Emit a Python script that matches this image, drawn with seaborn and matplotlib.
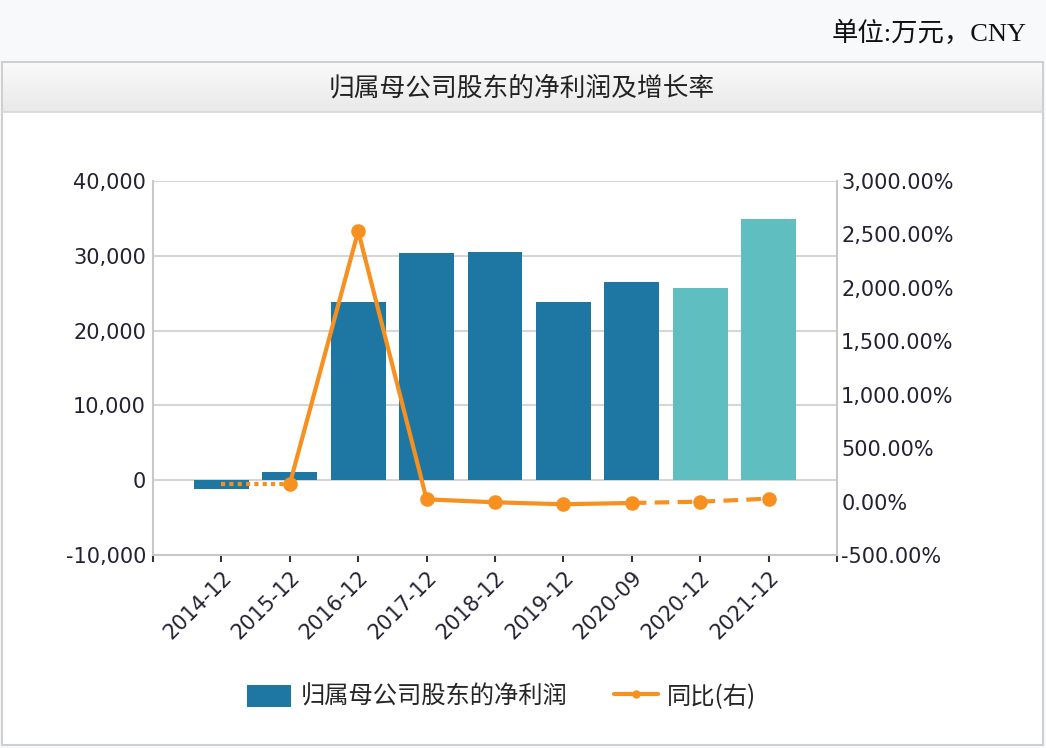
"""Net profit attributable to parent shareholders and YoY growth."""
import matplotlib.pyplot as plt
import numpy as np
import pandas as pd
import seaborn as sns
from matplotlib.lines import Line2D
from matplotlib.patches import Patch, Rectangle
from matplotlib.ticker import FuncFormatter, MultipleLocator

# Data
categories = ["2014-12", "2015-12", "2016-12", "2017-12", "2018-12",
              "2019-12", "2020-09", "2020-12", "2021-12"]
net_profit = [-1220, 1100, 23830, 30330, 30500, 23830, 26500, 25700, 34900]
yoy_growth = [165, 165, 2531, 21, -7, -25, -13, -1, 27]
is_forecast = [False, False, False, False, False, False, False, True, True]

BAR_COLOR = "#1E77A2"
FORECAST_COLOR = "#5FBFC0"
LINE_COLOR = "#F7901E"
TEXT_COLOR = "#222233"
GRID_COLOR = "#D6D6D6"

sns.set_theme(style="white")
plt.rcParams["font.family"] = ["DejaVu Sans", "Noto Sans CJK SC"]

W, H = 1046, 748
fig = plt.figure(figsize=(W / 100, H / 100), dpi=100, facecolor="#F7F9FA")

# Outer box and header band
fig.patches.append(Rectangle((2 / W, 3 / H), 1041 / W, (745 - 62) / H,
                             transform=fig.transFigure, facecolor="white",
                             edgecolor="#CFCFCF", lw=1.5, zorder=-2))
hdr = fig.add_axes([3 / W, 1 - 112 / H, 1039 / W, 49 / H], zorder=-1)
grad = np.linspace(0, 1, 64).reshape(-1, 1)
hdr.imshow(grad, aspect="auto", cmap=sns.blend_palette(["#FAFAFA", "#E9E9E9"], as_cmap=True),
           extent=(0, 1, 0, 1))
hdr.set_axis_off()
fig.add_artist(Line2D([2 / W, 1043 / W], [1 - 112 / H] * 2, transform=fig.transFigure,
                      color="#D8D8D8", lw=1.2))

fig.text(1027 / W, 1 - 33 / H, "单位:万元，CNY", ha="right", va="center",
         fontsize=19, color="#111111", family=["Liberation Serif", "Noto Sans CJK SC"])
fig.text(522 / W, 1 - 88 / H, "归属母公司股东的净利润及增长率", ha="center", va="center",
         fontsize=18.5, color="#222222", family=["Noto Sans CJK SC"])

ax = fig.add_axes([153 / W, 1 - 555 / H, 684 / W, 374 / H])
ax.set_facecolor("none")

pos = np.arange(len(categories))
df = pd.DataFrame({"period": categories, "profit": net_profit, "pos": pos})
palette = {c: (FORECAST_COLOR if f else BAR_COLOR) for c, f in zip(categories, is_forecast)}
sns.barplot(data=df, x="period", y="profit", hue="period", palette=palette,
            width=0.8, saturation=1, legend=False, ax=ax, zorder=2,
            edgecolor="none", linewidth=0)

ax.set_xlim(-1, len(categories))
ax.set_ylim(-10000, 40000)
ax.yaxis.set_major_locator(MultipleLocator(10000))
ax.yaxis.set_major_formatter(FuncFormatter(lambda v, _: f"{v:,.0f}"))
ax.set_xticks(np.arange(-1, len(categories) + 1))
ax.set_xticklabels([""] + categories + [""], rotation=45, ha="right",
                   rotation_mode="anchor", fontsize=15, color=TEXT_COLOR)
ax.tick_params(axis="x", length=5, width=1.5, color="#333333", pad=4, direction="out",
               bottom=True)
ax.tick_params(axis="y", length=0, labelsize=15, labelcolor=TEXT_COLOR, pad=5)
ax.yaxis.grid(True, color=GRID_COLOR, lw=1.5, zorder=0)
ax.set_axisbelow(True)
ax.set_xlabel("")
ax.set_ylabel("")
for side in ["top", "right"]:
    ax.spines[side].set_visible(False)
for side in ["left", "bottom"]:
    ax.spines[side].set_color("#C8C8C8")
    ax.spines[side].set_linewidth(1.5)

# Growth line on right axis, split into dotted / solid / dashed segments
ax2 = ax.twinx()
seg_rows = []
segments = [("gap", 0, 1), ("actual", 1, 6), ("forecast", 6, 8)]
for name, i0, i1 in segments:
    for i in range(i0, i1 + 1):
        seg_rows.append({"seg": name, "pos": pos[i], "yoy": yoy_growth[i]})
seg_df = pd.DataFrame(seg_rows)
sns.lineplot(data=seg_df, x="pos", y="yoy", style="seg", units="seg", estimator=None,
             dashes={"gap": (1, 1), "actual": "", "forecast": (3.5, 2)},
             color=LINE_COLOR, lw=3, sort=False, legend=False, ax=ax2)
pt_df = pd.DataFrame({"pos": pos[1:], "yoy": yoy_growth[1:]})
sns.scatterplot(data=pt_df, x="pos", y="yoy", color=LINE_COLOR, s=110,
                edgecolor=LINE_COLOR, linewidth=0, legend=False, ax=ax2, zorder=5)

ax2.set_ylim(-500, 3000)
ax2.yaxis.set_major_locator(MultipleLocator(500))
ax2.yaxis.set_major_formatter(FuncFormatter(lambda v, _: f"{v:,.2f}%"))
ax2.tick_params(axis="y", length=0, labelsize=15, labelcolor=TEXT_COLOR, pad=3)
ax2.set_xlim(-1, len(categories))
ax2.set_xlabel("")
ax2.set_ylabel("")
ax2.grid(False)
for side in ["top", "left", "bottom"]:
    ax2.spines[side].set_visible(False)
ax2.spines["right"].set_color("#C8C8C8")
ax2.spines["right"].set_linewidth(1.5)

handles = [Patch(facecolor=BAR_COLOR, edgecolor="none"),
           Line2D([0], [0], color=LINE_COLOR, lw=3, marker="o", markersize=5)]
fig.legend(handles, ["归属母公司股东的净利润", "同比(右)"], loc="center",
           bbox_to_anchor=(502 / W, 1 - 697 / H), ncol=2, frameon=False,
           handlelength=1.8, handleheight=1.0, columnspacing=1.9,
           handletextpad=0.4, prop={"family": ["Noto Sans CJK SC"], "size": 17.5})

fig.savefig("out.png", dpi=100, facecolor=fig.get_facecolor())
